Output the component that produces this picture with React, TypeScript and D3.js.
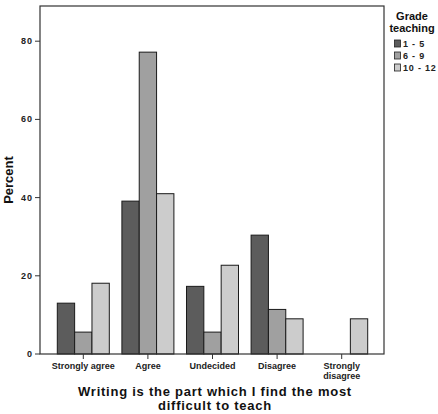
import React from "react";
import * as d3 from "d3";

const categories = ["Strongly agree", "Agree", "Undecided", "Disagree", "Strongly disagree"];
const seriesNames = ["1 - 5", "6 - 9", "10 - 12"];
const grade1to5 = [13.0, 39.1, 17.3, 30.4, 0];
const grade6to9 = [5.6, 77.2, 5.6, 11.4, 0];
const grade10to12 = [18.1, 41.0, 22.7, 9.0, 9.0];
const yTicks = [0, 20, 40, 60, 80];
const colors = ["#5c5c5c", "#a0a0a0", "#cccccc"];

const W = 438, H = 414;
const frame = { left: 40, top: 6, right: 384, bottom: 354 };
const font = "'Liberation Sans', Arial, sans-serif";

export default function App() {
  const series = [grade1to5, grade6to9, grade10to12];
  const y = d3.scaleLinear().domain([0, 89]).range([frame.bottom, frame.bottom - 89 * 3.91]);
  const x = d3.scaleBand().domain(categories).range([57.3, 367.7]).paddingInner(0.195).paddingOuter(0);
  const inner = d3.scaleBand().domain(seriesNames).range([0, x.bandwidth()]);
  const labelLines = (c: string) => (c === "Strongly disagree" ? ["Strongly", "disagree"] : [c]);

  return (
    <svg width={W} height={H} style={{ position: "absolute", left: 0, top: 0, background: "#fff" }} fontFamily={font}>
      <rect x={0} y={0} width={W} height={H} fill="#fff" />
      {/* bars */}
      {categories.map((c, ci) =>
        series.map((s, si) =>
          s[ci] > 0 ? (
            <rect
              key={c + si}
              x={(x(c) as number) + (inner(seriesNames[si]) as number)}
              y={y(s[ci])}
              width={inner.bandwidth()}
              height={frame.bottom - y(s[ci])}
              fill={colors[si]}
              stroke="#1a1a1a"
              strokeWidth={1}
            />
          ) : null
        )
      )}
      {/* frame */}
      <rect x={frame.left} y={frame.top} width={frame.right - frame.left} height={frame.bottom - frame.top} fill="none" stroke="#333" strokeWidth={1.2} />
      {/* y axis ticks */}
      {yTicks.map((t) => (
        <g key={t}>
          <line x1={frame.left - 5} x2={frame.left} y1={y(t)} y2={y(t)} stroke="#333" strokeWidth={1} />
          <text x={frame.left - 7} y={y(t) + 3} fontSize={9} fontWeight="bold" textAnchor="end" letterSpacing={1} fill="#222">
            {t}
          </text>
        </g>
      ))}
      <text transform={`translate(13,${(frame.top + frame.bottom) / 2}) rotate(-90)`} fontSize={13} fontWeight="bold" textAnchor="middle" fill="#111">
        Percent
      </text>
      {/* x axis ticks */}
      {categories.map((c) => {
        const cx = (x(c) as number) + x.bandwidth() / 2;
        return (
          <g key={c}>
            <line x1={cx} x2={cx} y1={frame.bottom} y2={frame.bottom + 5} stroke="#333" strokeWidth={1} />
            {labelLines(c).map((l, i) => (
              <text key={l} x={cx} y={frame.bottom + 15 + i * 10} fontSize={9} fontWeight="bold" textAnchor="middle" fill="#222">
                {l}
              </text>
            ))}
          </g>
        );
      })}
      <text x={215} y={396} fontSize={13} fontWeight="bold" textAnchor="middle" letterSpacing={0.75} fill="#111">
        Writing is the part which I find the most
      </text>
      <text x={215} y={410} fontSize={13} fontWeight="bold" textAnchor="middle" letterSpacing={0.75} fill="#111">
        difficult to teach
      </text>
      {/* legend */}
      <text x={412} y={20} fontSize={11} fontWeight="bold" textAnchor="middle" fill="#111">Grade</text>
      <text x={412} y={32} fontSize={11} fontWeight="bold" textAnchor="middle" fill="#111">teaching</text>
      {seriesNames.map((n, i) => (
        <g key={n}>
          <rect x={394.5} y={40 + i * 12} width={6} height={7} fill={colors[i]} stroke="#222" strokeWidth={0.8} />
          <text x={403} y={47 + i * 12} fontSize={9} fontWeight="bold" letterSpacing={0.8} fill="#222">{n}</text>
        </g>
      ))}
    </svg>
  );
}
